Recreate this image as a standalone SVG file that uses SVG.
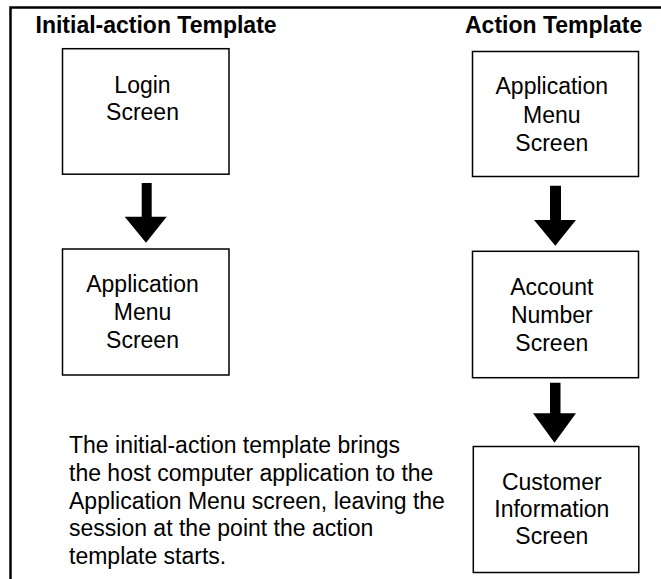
<svg xmlns="http://www.w3.org/2000/svg" width="661" height="579" viewBox="0 0 661 579">
<style>
  .frame { fill: none; stroke: #000; stroke-width: 2.5; }
  .box { fill: #fff; stroke: #000; stroke-width: 1.5; }
  .arrow { fill: #000; stroke: none; }
  .title { font-family: "Liberation Sans", Arial, sans-serif; font-size: 23px; font-weight: bold; fill: #000; }
  .label { font-family: "Liberation Sans", Arial, sans-serif; font-size: 23px; fill: #000; text-anchor: middle; }
  .desc { font-family: "Liberation Sans", Arial, sans-serif; font-size: 23px; fill: #000; }
</style>
<rect width="661" height="579" fill="#fff"/>
<path class="frame" d="M10.5,579 L10.5,7.5 L661,7.5"/>
<text class="title" x="35.5" y="33.3">Initial-action Template</text>
<text class="title" x="465" y="33.3">Action Template</text>

<g id="connectors">
  <polygon class="arrow" points="141.7,183 151.7,183 151.7,216.7 166.7,216.7 146,242.7 124.7,216.7 141.7,216.7"/>
  <polygon class="arrow" points="550,185.7 561,185.7 561,220 576,220 555.3,245.7 534,220 550,220"/>
  <polygon class="arrow" points="550,382.7 560.5,382.7 560.5,413.3 576,413.3 554.5,442.7 533,413.3 550,413.3"/>
</g>

<g id="login">
  <rect class="box" x="62.5" y="48.7" width="166.5" height="125.5"/>
  <text class="label" x="142.5" y="92.7">Login</text>
  <text class="label" x="142.5" y="120.3">Screen</text>
</g>
<g id="app-menu-left">
  <rect class="box" x="62.5" y="249" width="166.5" height="126"/>
  <text class="label" x="142.5" y="291.7">Application</text>
  <text class="label" x="142.5" y="320">Menu</text>
  <text class="label" x="142.5" y="348">Screen</text>
</g>
<g id="app-menu-right">
  <rect class="box" x="472.5" y="51.5" width="166" height="125"/>
  <text class="label" x="551.8" y="94">Application</text>
  <text class="label" x="551.8" y="122.5">Menu</text>
  <text class="label" x="551.8" y="151">Screen</text>
</g>
<g id="account">
  <rect class="box" x="472.5" y="251.3" width="166" height="126.4"/>
  <text class="label" x="551.8" y="295">Account</text>
  <text class="label" x="551.8" y="323">Number</text>
  <text class="label" x="551.8" y="351">Screen</text>
</g>
<g id="customer">
  <rect class="box" x="473.3" y="446.5" width="165.5" height="126"/>
  <text class="label" x="551.8" y="490">Customer</text>
  <text class="label" x="551.8" y="517">Information</text>
  <text class="label" x="551.8" y="544">Screen</text>
</g>
<g id="description">
  <text class="desc" x="69" y="453.3">The initial-action template brings</text>
  <text class="desc" x="69" y="481">the host computer application to the</text>
  <text class="desc" x="69" y="508.7">Application Menu screen, leaving the</text>
  <text class="desc" x="69" y="536.4">session at the point the action</text>
  <text class="desc" x="69" y="564">template starts.</text>
</g>
</svg>
